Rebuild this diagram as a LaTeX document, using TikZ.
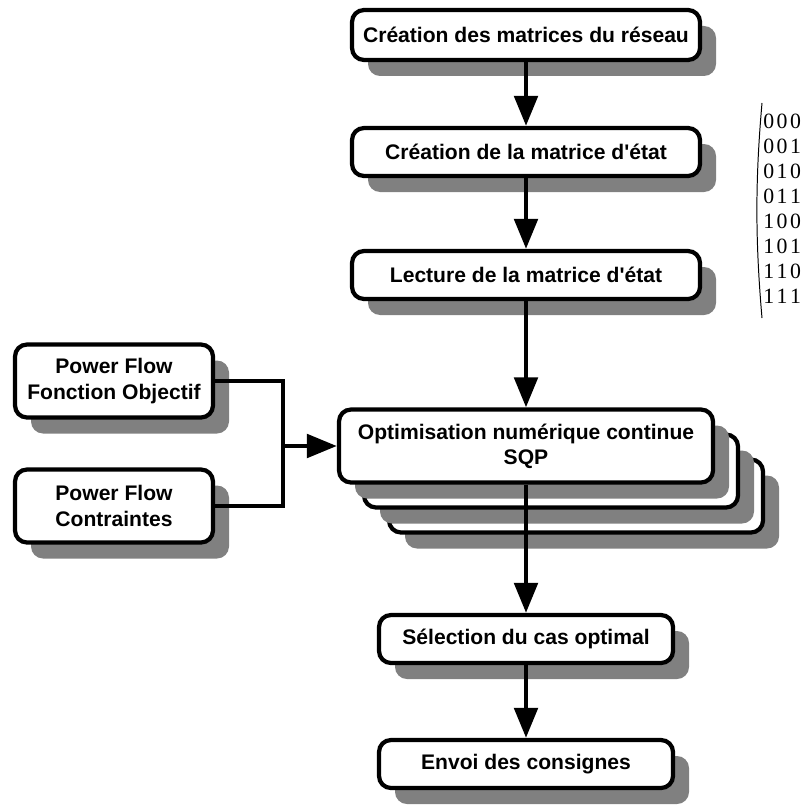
\documentclass[tikz,border=0pt]{standalone}
\usepackage{fontspec}
\newfontfamily\boxfont{Liberation Sans}
\newfontfamily\matfont{Liberation Serif}
\usetikzlibrary{arrows.meta,shadows}
\begin{document}
\begin{tikzpicture}[
    etape/.style={draw,line width=3pt,rounded corners=0.3cm,fill=white,
      drop shadow={shadow xshift=0.4cm,shadow yshift=-0.4cm,fill=black!50,opacity=1},
      font=\boxfont\fontsize{15}{18}\selectfont\bfseries,align=center,inner sep=0pt},
    fleche/.style={line width=3.3pt,-{Triangle[length=0.75cm,width=0.58cm]}},
    lien/.style={line width=3pt}]
  \useasboundingbox (0,0) rectangle (20,-20.15);

  \node[etape,minimum width=8.7cm,minimum height=1.25cm] (reseau) at (13.15,-0.875) {Création des matrices du réseau};
  \node[etape,minimum width=8.7cm,minimum height=1.2cm] (etat) at (13.15,-3.8) {Création de la matrice d\textquotesingle état};
  \node[etape,minimum width=8.7cm,minimum height=1.2cm] (lecture) at (13.15,-6.875) {Lecture de la matrice d\textquotesingle état};

  \node[etape,minimum width=9.35cm,minimum height=1.825cm] (sqp3) at (14.4,-12.4) {};
  \node[etape,minimum width=9.35cm,minimum height=1.825cm] (sqp2) at (13.775,-11.775) {};
  \node[etape,minimum width=9.35cm,minimum height=1.825cm] (sqp) at (13.15,-11.15) {Optimisation numérique continue\\SQP};

  \node[etape,minimum width=4.95cm,minimum height=1.825cm] (objectif) at (2.85,-9.525) {Power Flow\\Fonction Objectif};
  \node[etape,minimum width=4.95cm,minimum height=1.825cm] (contraintes) at (2.85,-12.65) {Power Flow\\Contraintes};

  \node[etape,minimum width=7.35cm,minimum height=1.2cm] (selection) at (13.15,-15.975) {Sélection du cas optimal};
  \node[etape,minimum width=7.35cm,minimum height=1.2cm] (consignes) at (13.15,-19.1) {Envoi des consignes};

  \draw[fleche] (reseau) -- (etat);
  \draw[fleche] (etat) -- (lecture);
  \draw[fleche] (lecture) -- (sqp);
  \draw[fleche] (sqp) -- (selection);
  \draw[fleche] (selection) -- (consignes);

  \coordinate (jonction) at (7.075,-11.15);
  \draw[lien] (objectif) -| (jonction) |- (contraintes);
  \draw[fleche] (jonction) -- (sqp);

  \draw[line width=0.7pt] (19.05,-2.575) .. controls (18.88,-4.5) and (18.88,-6.0) .. (19.05,-7.95);
  \foreach \a/\b/\c [count=\i from 0] in {0/0/0,0/0/1,0/1/0,0/1/1,1/0/0,1/0/1,1/1/0,1/1/1}
    \node[font=\matfont\fontsize{15.5}{18}\selectfont,anchor=west,inner sep=0pt] (ligne\i) at (19.075,{-3.025-0.625*\i}) {\a\kern1.8pt\b\kern1.8pt\c};
\end{tikzpicture}
\end{document}
